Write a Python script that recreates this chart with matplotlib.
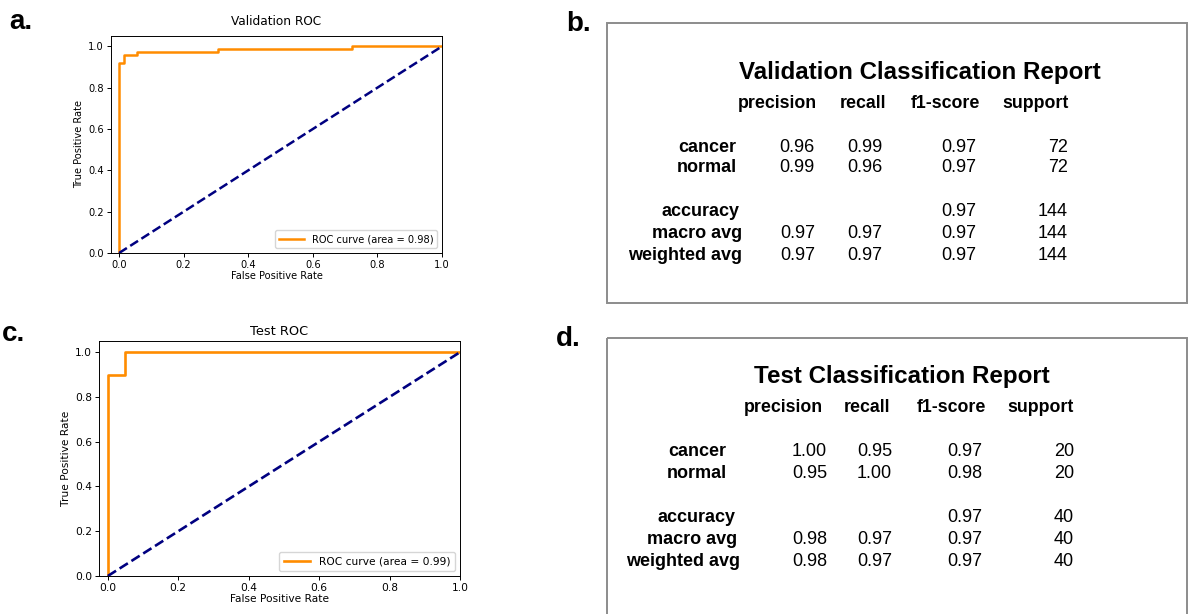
import numpy as np
import matplotlib.pyplot as plt
from matplotlib.patches import Rectangle

# ROC curve points
val_fpr = [0.0, 0.0, 0.014, 0.014, 0.056, 0.056, 0.306, 0.306, 0.722, 0.722, 1.0]
val_tpr = [0.0, 0.917, 0.917, 0.958, 0.958, 0.972, 0.972, 0.986, 0.986, 1.0, 1.0]
val_auc = 0.98
test_fpr = [0.0, 0.0, 0.05, 0.05, 1.0]
test_tpr = [0.0, 0.9, 0.9, 1.0, 1.0]
test_auc = 0.99

# classification reports
columns = ["precision", "recall", "f1-score", "support"]
row_labels = ["cancer", "normal", "accuracy", "macro avg", "weighted avg"]
val_precision = ["0.96", "0.99", "", "0.97", "0.97"]
val_recall = ["0.99", "0.96", "", "0.97", "0.97"]
val_f1 = ["0.97", "0.97", "0.97", "0.97", "0.97"]
val_support = ["72", "72", "144", "144", "144"]
test_precision = ["1.00", "0.95", "", "0.98", "0.98"]
test_recall = ["0.95", "1.00", "", "0.97", "0.97"]
test_f1 = ["0.97", "0.98", "0.97", "0.97", "0.97"]
test_support = ["20", "20", "40", "40", "40"]

W, H = 1188, 614
plt.close("all")
fig = plt.figure(figsize=(W / 100, H / 100), dpi=100)


def px_axes(left, top, right, bottom):
    return fig.add_axes([left / W, 1 - bottom / H, (right - left) / W, (bottom - top) / H])


def roc_panel(ax, fpr, tpr, auc, title, fs, lw, tpad):
    ax.plot(fpr, tpr, color="darkorange", lw=lw, label="ROC curve (area = %0.2f)" % auc)
    ax.plot([0, 1], [0, 1], color="navy", lw=lw, linestyle="--")
    ax.set_xlim(-0.025, 1.0)
    ax.set_ylim(0.0, 1.05)
    ax.set_xticks(np.arange(0, 1.01, 0.2))
    ax.set_yticks(np.arange(0, 1.01, 0.2))
    ax.tick_params(labelsize=fs, length=3, width=0.7, pad=2)
    for s in ax.spines.values():
        s.set_linewidth(0.7)
    ax.set_xlabel("False Positive Rate", fontsize=fs, labelpad=1)
    ax.set_ylabel("True Positive Rate", fontsize=fs, labelpad=3)
    ax.set_title(title, fontsize=fs + 1.6, pad=tpad)
    ax.legend(loc="lower right", fontsize=fs, handlelength=2.5)


ax_a = px_axes(111, 36, 442, 253)
roc_panel(ax_a, val_fpr, val_tpr, val_auc, "Validation ROC", 7.1, 1.8, 8)
ax_c = px_axes(99, 341, 460, 576)
roc_panel(ax_c, test_fpr, test_tpr, test_auc, "Test ROC", 7.7, 1.9, 4)

# overlay in pixel coordinates for the report boxes and panel letters
ov = fig.add_axes([0, 0, 1, 1], zorder=-1)
ov.set_xlim(0, W)
ov.set_ylim(H, 0)
ov.axis("off")

font = "Liberation Sans"


def report(title, title_xy, header_y, header_x, row_y, label_x, value_x, cols):
    ov.text(title_xy[0], title_xy[1], title, ha="center", va="center",
            fontsize=17.4, fontweight="bold", family=font)
    for name, x in zip(columns, header_x):
        ov.text(x, header_y, name, ha="right", va="center",
                fontsize=12.8, fontweight="bold", family=font)
    for i, lab in enumerate(row_labels):
        ov.text(label_x[i], row_y[i], lab, ha="right", va="center",
                fontsize=13, fontweight="bold", family=font)
        for vals, x in zip(cols, value_x):
            ov.text(x, row_y[i], vals[i], ha="right", va="center",
                    fontsize=13, family=font)


# panel b
ov.add_patch(Rectangle((607, 23), 580, 280, fill=False, ec="#8c8c8c", lw=1.4))
report("Validation Classification Report", (920, 72), 103,
       [817, 886, 980, 1069], [147, 168, 212, 233, 255],
       [736, 737, 740, 742, 742], [815, 882, 976, 1068],
       [val_precision, val_recall, val_f1, val_support])

# panel d
ov.add_patch(Rectangle((607, 338), 580, 290, fill=False, ec="#8c8c8c", lw=1.4))
report("Test Classification Report", (902, 377), 408,
       [823, 890, 986, 1074], [452, 473, 518, 539, 561],
       [726, 727, 735, 737, 740], [827, 892, 982, 1074],
       [test_precision, test_recall, test_f1, test_support])

# panel letters
for letter, x, y in [("a.", 9, 29), ("b.", 566, 31), ("c.", 2, 341), ("d.", 556, 346)]:
    ov.text(x, y, letter, ha="left", va="baseline", fontsize=20,
            fontweight="bold", family=font)

plt.savefig("out.png", dpi=100)
